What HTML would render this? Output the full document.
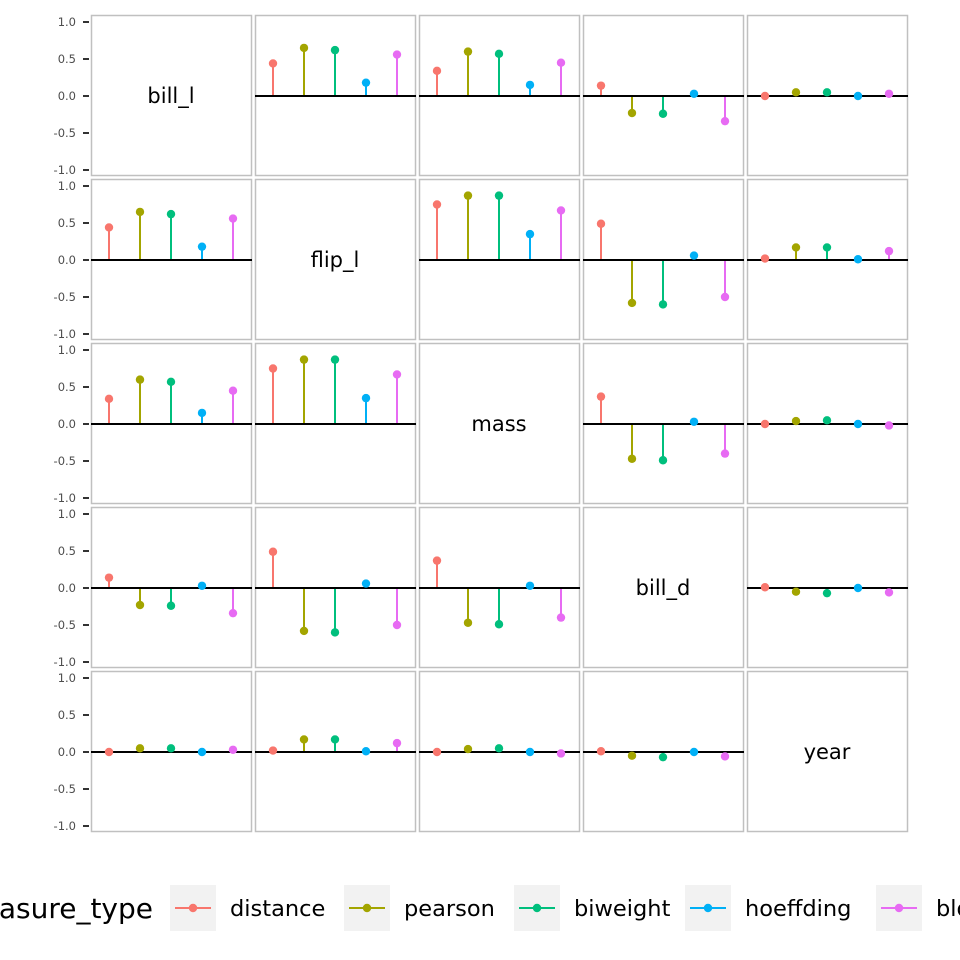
<!DOCTYPE html>
<html><head><meta charset="utf-8"><style>
html,body{margin:0;padding:0;background:#fff;width:960px;height:960px;overflow:hidden}
svg{font-family:"DejaVu Sans","Liberation Sans",sans-serif}
</style></head><body>
<svg id="chart" width="960" height="960" viewBox="0 0 960 960"></svg>
<script>
const vars = ["bill_l","flip_l","mass","bill_d","year"];
const measures = ["distance","pearson","biweight","hoeffding","blomqvist"];
const colors = ["#F8766D","#A3A500","#00BF7D","#00B0F6","#E76BF3"];
const pairBillFlip = [0.44,0.65,0.62,0.18,0.56];
const pairBillMass = [0.34,0.60,0.57,0.15,0.45];
const pairBillDepth = [0.14,-0.23,-0.24,0.03,-0.34];
const pairBillYear = [0.0,0.05,0.05,0.0,0.03];
const pairFlipMass = [0.75,0.87,0.87,0.35,0.67];
const pairFlipDepth = [0.49,-0.58,-0.60,0.06,-0.50];
const pairFlipYear = [0.02,0.17,0.17,0.01,0.12];
const pairMassDepth = [0.37,-0.47,-0.49,0.03,-0.40];
const pairMassYear = [0.0,0.04,0.05,0.0,-0.02];
const pairDepthYear = [0.01,-0.05,-0.07,0.0,-0.06];
const yTicks = [1.0,0.5,0.0,-0.5,-1.0];
const yTickLabels = ["1.0","0.5","0.0","-0.5","-1.0"];

const pairs = {"0-1":pairBillFlip,"0-2":pairBillMass,"0-3":pairBillDepth,"0-4":pairBillYear,
"1-2":pairFlipMass,"1-3":pairFlipDepth,"1-4":pairFlipYear,"2-3":pairMassDepth,"2-4":pairMassYear,"3-4":pairDepthYear};
const NS="http://www.w3.org/2000/svg";
const svg=document.getElementById('chart');
function mk(t,a,p){const e=document.createElementNS(NS,t);for(const k in a)e.setAttribute(k,a[k]);(p||svg).appendChild(e);return e;}
const PX=91,PY=15,PITCH=164,PW=160,PH=160;
const yScale=v=>81-74*v;
const xScale=i=>18+31*i;
for(let r=0;r<5;r++){
 for(let c=0;c<5;c++){
  const g=mk('g',{transform:`translate(${PX+c*PITCH},${PY+r*PITCH})`});
  
  
  const b=mk('rect',{x:0.5,y:0.5,width:PW,height:PH,fill:'#fff',stroke:'#c0c0c0','stroke-width':1.5},g);
  
  
  if(r===c){
   const t=mk('text',{x:PW/2,y:yScale(0)+7,'text-anchor':'middle','font-size':21,fill:'#000'},g);
   t.textContent=vars[r];
   
   
  } else {
   const key=r<c?`${r}-${c}`:`${c}-${r}`;
   const vals=pairs[key];
   vals.forEach((v,i)=>{
    const s=mk('line',{x1:xScale(i),x2:xScale(i),y1:yScale(0),y2:yScale(v),stroke:colors[i],'stroke-width':2},g);
    
    
   });
   const z=mk('line',{x1:0,x2:PW+1,y1:yScale(0),y2:yScale(0),stroke:'#000','stroke-width':2},g);
   
   
   vals.forEach((v,i)=>{
    const p=mk('circle',{cx:xScale(i),cy:yScale(v),r:4.2,fill:colors[i]},g);
    
    
   });
  }
 }
 yTicks.forEach((v,k)=>{
  const y=PY+r*PITCH+yScale(v);
  const tk=mk('line',{x1:83,x2:89,y1:y,y2:y,stroke:'#333','stroke-width':2});
  
  
  const tl=mk('text',{x:76,y:y+4,'text-anchor':'end','font-size':11.5,fill:'#4d4d4d'});
  tl.textContent=yTickLabels[k];
  
  
 });
}
// legend
const lt=mk('text',{x:153,y:918,'text-anchor':'end','font-size':28,fill:'#000'});
lt.textContent='measure_type';


const keyX=[170,344,514,685,876];
measures.forEach((m,i)=>{
 const g=mk('g',{transform:`translate(${keyX[i]},885)`});
 
 
 mk('rect',{x:0,y:0,width:46,height:46,fill:'#f2f2f2'},g);
 mk('line',{x1:5,x2:41,y1:23,y2:23,stroke:colors[i],'stroke-width':2},g);
 mk('circle',{cx:23,cy:23,r:4.2,fill:colors[i]},g);
 const t=mk('text',{x:60,y:31,'font-size':22.5,fill:'#000'},g);
 t.textContent=m;
});
</script>
</body></html>
